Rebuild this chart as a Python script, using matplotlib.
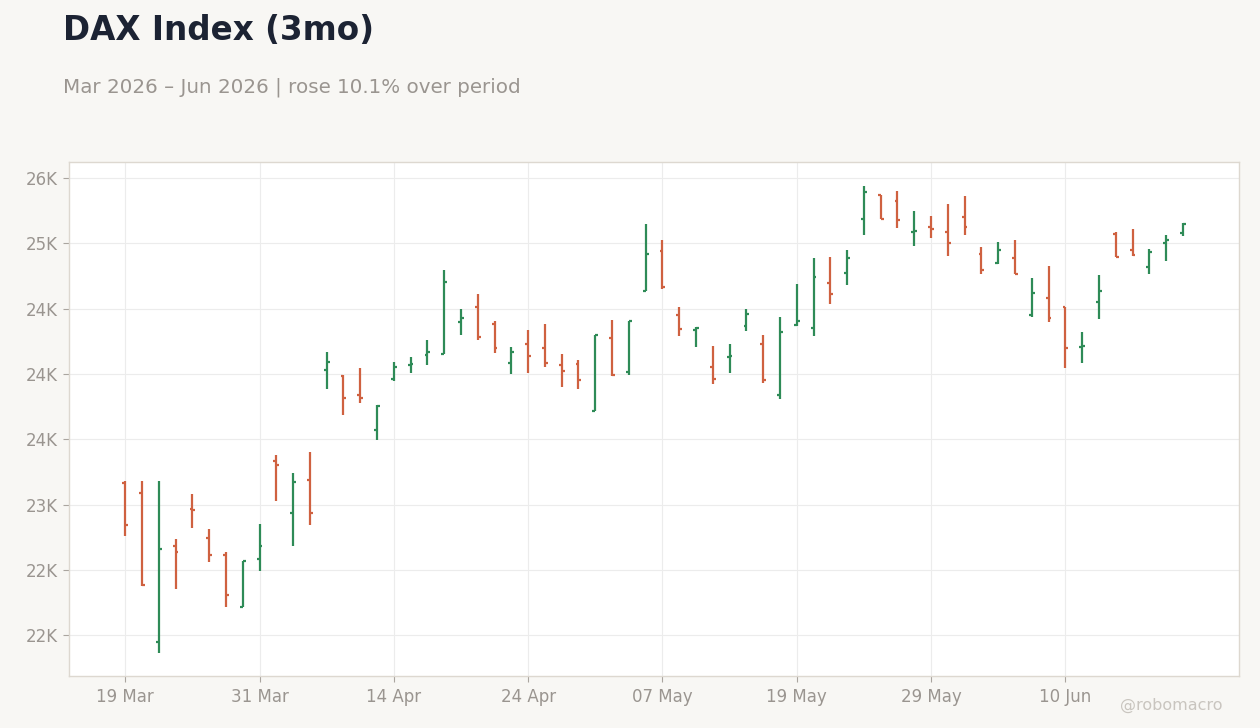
import numpy as np
import pandas as pd
import matplotlib
matplotlib.use("Agg")
import matplotlib.pyplot as plt
from matplotlib.ticker import FuncFormatter

plt.rcParams["font.family"] = ["DejaVu Sans"]

# DAX daily OHLC
opens = [23168, 23092, 21951, 22686, 22969, 22747, 22617, 22217, 22587, 23337,
         22939, 23191, 24028, 23987, 23836, 23568, 23959, 24066, 24143, 24155,
         24396, 24515, 24380, 24081, 24227, 24198, 24068, 24076, 23714, 24275,
         24012, 24632, 24939, 24451, 24336, 24053, 24129, 24367, 24232, 23841,
         24377, 24354, 24698, 24775, 25188, 25368, 25325, 25089, 25127, 25089,
         25204, 24920, 24852, 24890, 24454, 24584, 24513, 24205, 24553, 25074,
         24951, 24821, 25005, 25081]
highs = [23179, 23179, 23179, 22737, 23082, 22814, 22636, 22571, 22852, 23381,
         23243, 23404, 24171, 23992, 24048, 23763, 24094, 24132, 24263, 24799,
         24500, 24615, 24408, 24209, 24339, 24380, 24155, 24110, 24298, 24410,
         24408, 25151, 25023, 24510, 24362, 24211, 24227, 24495, 24298, 24436,
         24691, 24887, 24895, 24949, 25439, 25368, 25401, 25247, 25209, 25301,
         25362, 24969, 25010, 25023, 24732, 24824, 24513, 24323, 24756, 25084,
         25107, 24954, 25061, 25153]
lows = [22763, 22375, 21867, 22357, 22824, 22564, 22219, 22219, 22495, 23031,
        22686, 22847, 23882, 23683, 23775, 23492, 23943, 24005, 24066, 24153,
        24296, 24257, 24158, 23997, 24005, 24053, 23900, 23884, 23714, 23984,
        23995, 24632, 24650, 24290, 24206, 23922, 24008, 24328, 23928, 23805,
        24364, 24293, 24538, 24681, 25066, 25188, 25119, 24982, 25043, 24905,
        25066, 24768, 24840, 24762, 24434, 24401, 24046, 24086, 24423, 24893,
        24905, 24768, 24867, 25058]
closes = [22847, 22388, 22661, 22640, 22962, 22617, 22311, 22569, 22684, 23306,
          23176, 22932, 24089, 23813, 23813, 23752, 24051, 24074, 24166, 24705,
          24426, 24280, 24201, 24166, 24135, 24083, 24020, 23953, 24298, 23992,
          24405, 24918, 24663, 24344, 24351, 23961, 24137, 24459, 23954, 24318,
          24407, 24744, 24614, 24890, 25393, 25188, 25178, 25096, 25112, 25005,
          25127, 24798, 24951, 24768, 24622, 24431, 24201, 24213, 24637, 24898,
          24913, 24936, 25028, 25150]

holidays = ["2026-04-03", "2026-04-06", "2026-05-01"]
dates = pd.bdate_range("2026-03-19", periods=len(opens), freq="C", holidays=holidays)

UP = "#2e8b57"
DOWN = "#cf6140"
BG = "#f8f7f4"
GREY = "#9a9590"

fig = plt.figure(figsize=(12.6, 7.28), dpi=100, facecolor=BG)
ax = fig.add_axes([0.055, 0.0714, 0.9283, 0.7061])
ax.set_facecolor("white")

x = np.arange(len(opens))
o, h, l, c = map(np.array, (opens, highs, lows, closes))
colors = [UP if cc >= oo else DOWN for oo, cc in zip(o, c)]
tw = 0.17

ax.vlines(x, l, h, colors=colors, linewidth=1.6, zorder=3)
ax.hlines(o, x - tw, x, colors=colors, linewidth=1.6, zorder=3)
ax.hlines(c, x, x + tw, colors=colors, linewidth=1.6, zorder=3)

ax.set_xlim(-3.33, 66.34)
ax.set_ylim(21688, 25622)

tick_idx = list(range(0, len(dates), 8))
ax.set_xticks(tick_idx)
ax.set_xticklabels([dates[i].strftime("%d %b") for i in tick_idx])
ax.set_yticks(np.arange(22000, 25501, 500))
ax.yaxis.set_major_formatter(FuncFormatter(lambda v, p: f"{v/1000:.0f}K"))

ax.grid(True, color="#ececec", linewidth=0.8, zorder=0)
ax.set_axisbelow(True)
for s in ax.spines.values():
    s.set_color("#ddd8d0")
    s.set_linewidth(1.0)
ax.tick_params(colors="#aaa59f", labelcolor=GREY, labelsize=12, length=4.3, pad=4)

fig.text(0.05, 0.945, "DAX Index (3mo)", fontsize=23.5, fontweight="bold",
         color="#1c2333", va="baseline")
fig.text(0.05, 0.8736, "Mar 2026 \u2013 Jun 2026 | rose 10.1% over period",
         fontsize=14.3, color=GREY, va="baseline")
fig.text(0.970, 0.025, "@robomacro", fontsize=11.5, color="#c9c5bf",
         ha="right", va="baseline")

fig.savefig("out.png", dpi=100, facecolor=BG)
